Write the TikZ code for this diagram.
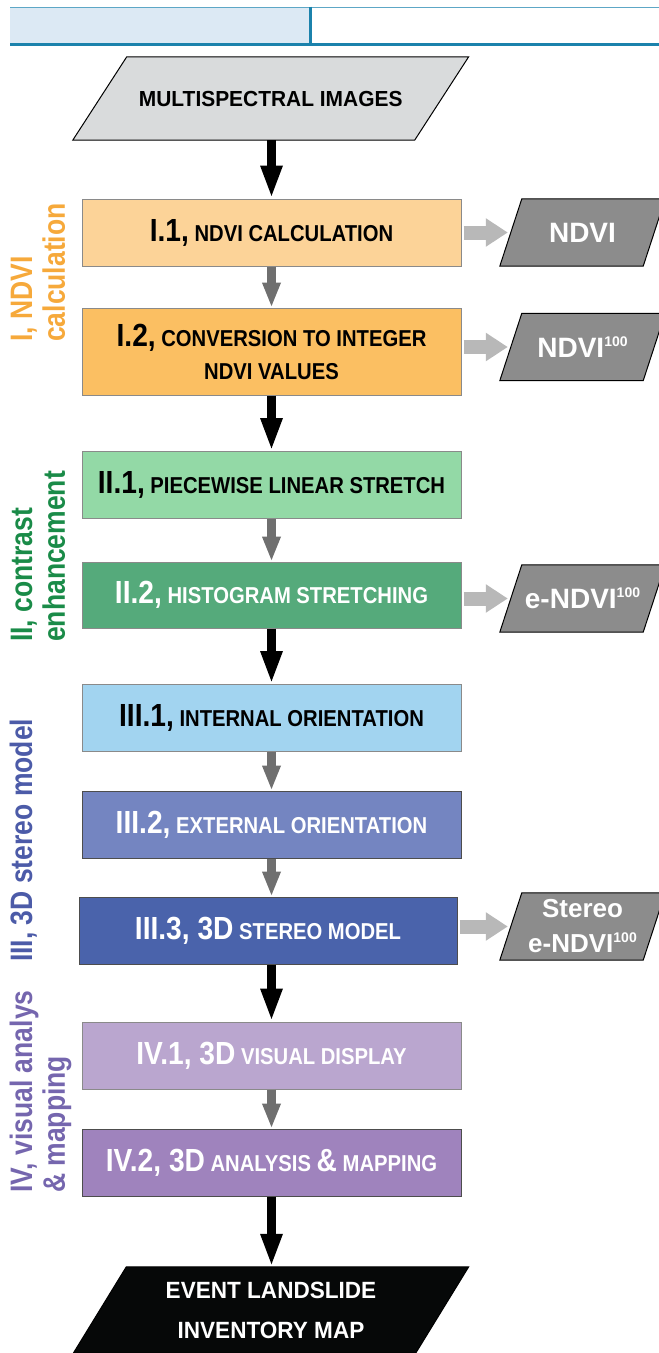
\documentclass[tikz,border=0pt]{standalone}
\usepackage{fontspec}
\usepackage{graphicx}
\setmainfont{Liberation Sans}
\newfontfamily\boxf[FakeStretch=0.88]{Liberation Sans}
\newfontfamily\plainf[FakeStretch=0.96]{Liberation Sans}
\usetikzlibrary{arrows.meta,calc,backgrounds}
\definecolor{barfill}{HTML}{DCE9F4}
\definecolor{barteal}{HTML}{1B82AC}
\definecolor{barlight}{HTML}{5DA7C6}
\definecolor{bordergray}{HTML}{8A8A8A}
\definecolor{darkborder}{HTML}{4D4D4D}
\definecolor{msgray}{HTML}{D9DBDC}
\definecolor{evblack}{HTML}{060808}
\definecolor{outgray}{HTML}{8C8C8C}
\definecolor{arrgray}{HTML}{6F6F6F}
\definecolor{sidegray}{HTML}{B8B8B8}
\definecolor{c11}{HTML}{FCD398}
\definecolor{c12}{HTML}{FBBF62}
\definecolor{c21}{HTML}{93D9A6}
\definecolor{c22}{HTML}{55AA7B}
\definecolor{c31}{HTML}{A2D4F0}
\definecolor{c32}{HTML}{7485C1}
\definecolor{c33}{HTML}{4A63AB}
\definecolor{c41}{HTML}{BAA6CF}
\definecolor{c42}{HTML}{9F83BD}
\definecolor{labone}{HTML}{F6A93B}
\definecolor{labtwo}{HTML}{1A8B48}
\definecolor{labthree}{HTML}{4C5BA8}
\definecolor{labfour}{HTML}{7566AE}
\newcommand\BN[1]{{\fontsize{32}{33}\selectfont #1}}
\newcommand\hund{\raisebox{0.40em}{\fontsize{14}{14}\selectfont 100}}
\begin{document}
\begin{tikzpicture}[x=1pt,y=-1pt,
  stepbox/.style={draw=bordergray, line width=1pt, minimum width=379pt, minimum height=67pt, inner sep=0pt, align=center, font=\boxf\bfseries\fontsize{23}{33}\selectfont},
  outbox/.style={minimum width=143pt, minimum height=67pt, inner sep=0pt, align=center, text=white, font=\bfseries\fontsize{28}{35}\selectfont},
  outshape/.style={fill=outgray, draw=black, line width=1pt},
  blackarrow/.style={draw=black, line width=8.5pt, -{Triangle[length=33pt,width=20pt]}},
  grayarrow/.style={draw=arrgray, line width=9pt, -{Triangle[length=25pt,width=17pt]}},
  sidearrow/.style={draw=sidegray, line width=14pt, -{Triangle[length=22pt,width=27pt]}, shorten <=2pt, shorten >=3pt},
  phase/.style={inner sep=0pt, anchor=south, font=\bfseries\fontsize{26.5}{28}\selectfont}
]
\useasboundingbox (0,0) rectangle (659,1353);

% process boxes
\node[stepbox, fill=c11] (i1) at (271.5,232.5) {\BN{I.1,} NDVI CALCULATION};
\node[stepbox, fill=c12, minimum height=87pt] (i2) at (271.5,351.5) {\BN{I.2,} CONVERSION TO INTEGER\\NDVI VALUES};
\node[stepbox, fill=c21] (ii1) at (271.5,485) {\BN{II.1,} PIECEWISE LINEAR STRETCH};
\node[stepbox, fill=c22, text=white, minimum height=66pt] (ii2) at (271.5,595) {\BN{II.2,} HISTOGRAM STRETCHING};
\node[stepbox, fill=c31] (iii1) at (271.5,718) {\BN{III.1,} INTERNAL ORIENTATION};
\node[stepbox, fill=c32, text=white, draw=darkborder] (iii2) at (271.5,824.5) {\BN{III.2,} EXTERNAL ORIENTATION};
\node[stepbox, fill=c33, text=white, draw=darkborder, minimum width=378pt] (iii3) at (268,930.5) {\BN{III.3, 3D} STEREO MODEL};
\node[stepbox, fill=c41, text=white] (iv1) at (271.5,1055.5) {\BN{IV.1, 3D} VISUAL DISPLAY};
\node[stepbox, fill=c42, text=white, draw=darkborder] (iv2) at (271.5,1162.5) {\BN{IV.2, 3D} ANALYSIS \BN{\&} MAPPING};

% input / output
\node[inner sep=0pt, minimum width=341.5pt, minimum height=83pt, font=\plainf\bfseries\fontsize{21.8}{25}\selectfont] (ms) at (270.7,98.5) {MULTISPECTRAL IMAGES};
\node[inner sep=0pt, minimum width=342pt, minimum height=86pt, text=white, align=center, font=\plainf\bfseries\fontsize{23.5}{40}\selectfont] (ev) at (271,1310) {EVENT LANDSLIDE\\INVENTORY MAP};

\node[outbox] (o1) at (582.5,232.5) {NDVI};
\node[outbox] (o2) at (582.5,347) {NDVI\hund};
\node[outbox] (o3) at (582.5,598.5) {e-NDVI\hund};
\node[outbox, font=\bfseries\fontsize{26}{35}\selectfont] (o4) at (582.5,926.5) {Stereo\\e-NDVI\hund};

% phase labels
\node[phase, text=labone] (p1) at (42,342) {\scalebox{1.17}[1]{\rotatebox{90}{\begin{tabular}{@{}l@{}}I, NDVI\\calculation\end{tabular}}}};
\node[phase, text=labtwo] (p2) at (42,642) {\scalebox{1.17}[1]{\rotatebox{90}{\begin{tabular}{@{}l@{}}II, contrast\\enhancement\end{tabular}}}};
\node[phase, text=labthree] (p3) at (25.5,962) {\scalebox{1.17}[1]{\rotatebox{90}{\begin{tabular}{@{}l@{}}III, 3D stereo model\end{tabular}}}};
\node[phase, text=labfour] (p4) at (42,1193) {\scalebox{1.17}[1]{\rotatebox{90}{\begin{tabular}{@{}l@{}}IV, visual analys\\\& mapping\end{tabular}}}};

% backgrounds
\begin{scope}[on background layer]
  \fill[barfill] (10,8) rectangle (309,44);
  \draw[barlight, line width=1.4pt] (10,7.3) -- (659,7.3);
  \draw[barteal, line width=2.4pt] (10,44.5) -- (659,44.5);
  \draw[barteal, line width=2.8pt] (310.5,6.6) -- (310.5,45.7);
  \path[fill=msgray, draw=black, line width=1pt] ($(ms.south west)+(-27,0)$) -- ($(ms.south east)+(-27,0)$) -- ($(ms.north east)+(27,0)$) -- ($(ms.north west)+(27,0)$) -- cycle;
  \path[fill=evblack, draw=black, line width=1pt] ($(ev.south west)+(-26.5,0)$) -- ($(ev.south east)+(-26.5,0)$) -- ($(ev.north east)+(26.5,0)$) -- ($(ev.north west)+(26.5,0)$) -- cycle;
  \foreach \o in {o1,o2,o3,o4}{
    \path[outshape] ($(\o.south west)+(-11,0)$) -- ($(\o.south east)+(-11,0)$) -- ($(\o.north east)+(11,0)$) -- ($(\o.north west)+(11,0)$) -- cycle;
  }
\end{scope}

% connectors
\draw[blackarrow] (i1.north |- ms.south) -- (i1.north);
\draw[grayarrow] (i1.south) -- (i2.north);
\draw[blackarrow] (i2.south) -- (ii1.north);
\draw[grayarrow] (ii1.south) -- (ii2.north);
\draw[blackarrow] (ii2.south) -- (iii1.north);
\draw[grayarrow] (iii1.south) -- (iii2.north);
\draw[grayarrow] (iii2.south) -- (iii2.south |- iii3.north);
\draw[blackarrow] (iv1.north |- iii3.south) -- (iv1.north);
\draw[grayarrow] (iv1.south) -- (iv2.north);
\draw[blackarrow] (iv2.south) -- (iv2.south |- ev.north);

\draw[sidearrow] (i1.east |- o1.west) -- (o1.west);
\draw[sidearrow] (i2.east |- o2.west) -- (o2.west);
\draw[sidearrow] (ii2.east |- o3.west) -- (o3.west);
\draw[sidearrow] (iii3.east |- o4.west) -- (o4.west);
\end{tikzpicture}
\end{document}
